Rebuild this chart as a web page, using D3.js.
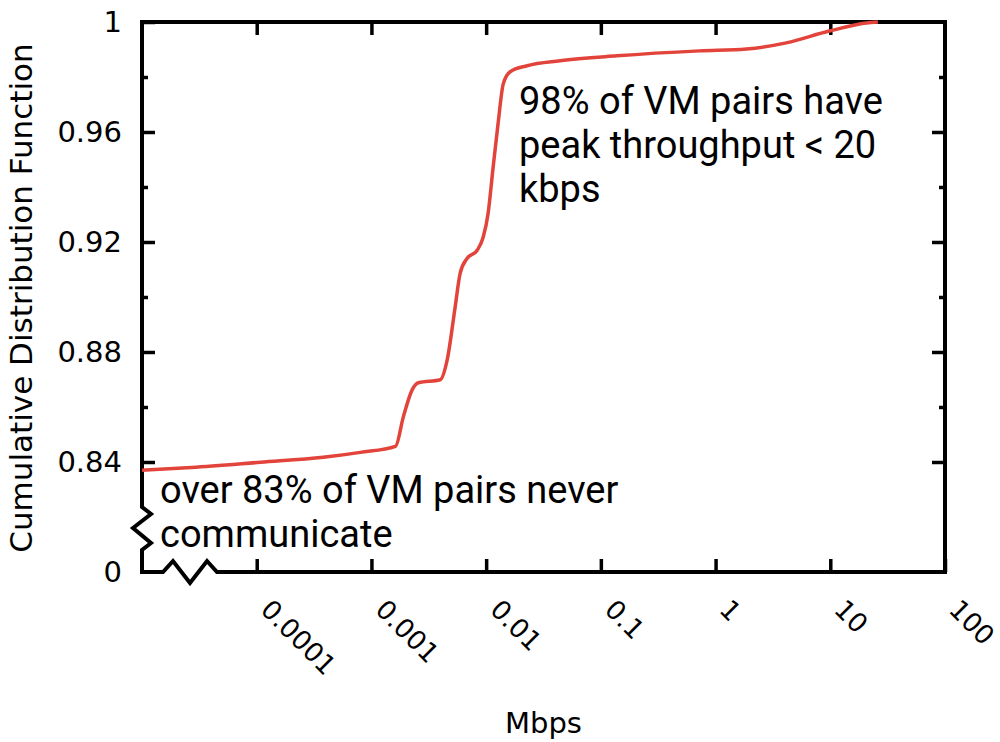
<!DOCTYPE html>
<html>
<head>
<meta charset="utf-8">
<script src="https://cdn.jsdelivr.net/npm/d3@7"></script>
<style>
  body { margin: 0; background: #fff; }
  svg { display: block; }
  .tick text { font-family: "DejaVu Sans", sans-serif; fill: #000; }
  .note { font-family: Roboto, sans-serif; font-size: 38px; fill: #000; }
</style>
</head>
<body>
<div id="chart"></div>
<script>
// CDF of peak throughput between VM pairs
var mbps = [1e-5, 2.7e-5, 1.08e-4, 3.8e-4, 8.0e-4, 1.62e-3, 1.9e-3, 2.27e-3, 2.57e-3,
    3.98e-3, 4.58e-3, 5.37e-3, 5.94e-3, 6.84e-3, 8.36e-3, 9.42e-3, 1.04e-2, 1.15e-2,
    1.27e-2, 1.41e-2, 1.62e-2, 2.28e-2, 4.4e-2, 0.138, 0.726, 1.86, 4.14, 9.8, 20.6, 26];
var cdf = [0.8370, 0.8380, 0.8399, 0.8417, 0.8435, 0.8457, 0.8565, 0.8663, 0.8688,
    0.8699, 0.8772, 0.8964, 0.9087, 0.9141, 0.9170, 0.9217, 0.9304, 0.9471,
    0.9630, 0.9775, 0.9819, 0.9841, 0.9859, 0.9877, 0.9895, 0.9902, 0.9924, 0.9967, 0.9996, 1.0];

var xTicks = [1e-4, 1e-3, 1e-2, 1e-1, 1, 10, 100];
var xTickLabels = ["0.0001", "0.001", "0.01", "0.1", "1", "10", "100"];
var yTicks = [0.84, 0.88, 0.92, 0.96, 1];
var yMinorTicks = [0.86, 0.90, 0.94, 0.98];
var yBreakLabel = "0";

var width = 1000, height = 742;
var margin = {top: 22, right: 55, bottom: 170, left: 142};

var svg = d3.select("#chart").append("svg")
    .attr("width", width)
    .attr("height", height);

var x = d3.scaleLog()
    .domain([1e-5, 100])
    .range([margin.left, width - margin.right]);
var y = d3.scaleLinear()
    .domain([0.80, 1])
    .range([height - margin.bottom, margin.top]);

var x0 = x.range()[0], x1 = x.range()[1];
var y0 = y.range()[0], y1 = y.range()[1];

// tick marks, pointing inward on all four sides
function styleAxis(g) {
    g.select(".domain").remove();
    g.selectAll(".tick line").attr("stroke", "#000").attr("stroke-width", 3.5);
}

svg.append("g")
    .attr("transform", "translate(0," + y0 + ")")
    .call(d3.axisBottom(x).tickValues(xTicks).tickSize(-13).tickFormat(function (d, i) { return xTickLabels[i]; }))
    .call(styleAxis)
    .selectAll("text")
    .attr("font-size", 26.5)
    .attr("text-anchor", "start")
    .attr("dy", null)
    .attr("y", null)
    .attr("transform", "translate(2,39) rotate(45)");

svg.append("g")
    .attr("transform", "translate(0," + y1 + ")")
    .call(d3.axisTop(x).tickValues(xTicks.slice(0, -1)).tickSize(-13).tickFormat(""))
    .call(styleAxis);

svg.append("g")
    .attr("transform", "translate(" + x0 + ",0)")
    .call(d3.axisLeft(y).tickValues(yTicks).tickSize(-13).tickPadding(20).tickFormat(d3.format("")))
    .call(styleAxis)
    .selectAll("text")
    .attr("font-size", 29);

svg.append("g")
    .attr("transform", "translate(" + x0 + ",0)")
    .call(d3.axisLeft(y).tickValues(yMinorTicks).tickSize(-6).tickFormat(""))
    .call(styleAxis);

svg.append("g")
    .attr("transform", "translate(" + x1 + ",0)")
    .call(d3.axisRight(y).tickValues(yTicks.slice(0, -1)).tickSize(-13).tickFormat(""))
    .call(styleAxis);

svg.append("g")
    .attr("transform", "translate(" + x1 + ",0)")
    .call(d3.axisRight(y).tickValues(yMinorTicks).tickSize(-6).tickFormat(""))
    .call(styleAxis);

// "0" label at the broken bottom of the y axis
svg.append("text")
    .attr("x", x0 - 20)
    .attr("y", y0)
    .attr("dy", "0.35em")
    .attr("text-anchor", "end")
    .attr("font-family", "DejaVu Sans, sans-serif")
    .attr("font-size", 29)
    .text(yBreakLabel);

// frame with the two zigzag breaks
var frame = d3.path();
frame.moveTo(x0, y1);
frame.lineTo(x1, y1);
frame.lineTo(x1, y0);
frame.lineTo(x0 + 75, y0);
frame.lineTo(x0 + 65, y0 - 11);
frame.lineTo(x0 + 48, y0 + 11);
frame.lineTo(x0 + 31, y0 - 11);
frame.lineTo(x0 + 21, y0);
frame.lineTo(x0, y0);
frame.lineTo(x0, y0 - 22);
frame.lineTo(x0 + 9, y0 - 29);
frame.lineTo(x0 - 9, y0 - 44);
frame.lineTo(x0 + 9, y0 - 58);
frame.lineTo(x0, y0 - 65);
frame.closePath();

svg.append("path")
    .attr("d", frame.toString())
    .attr("fill", "none")
    .attr("stroke", "#000")
    .attr("stroke-width", 4)
    .attr("stroke-linejoin", "miter");

// the CDF curve
var line = d3.line()
    .x(function (d, i) { return x(mbps[i]); })
    .y(function (d) { return y(d); })
    .curve(d3.curveMonotoneX);

svg.append("path")
    .datum(cdf)
    .attr("d", line)
    .attr("fill", "none")
    .attr("stroke", "#e2433a")
    .attr("stroke-width", 3.5)
    .attr("stroke-linejoin", "round");

// axis titles
svg.append("text")
    .attr("transform", "translate(32,298) rotate(-90)")
    .attr("text-anchor", "middle")
    .attr("font-family", "DejaVu Sans, sans-serif")
    .attr("font-size", 31)
    .text("Cumulative Distribution Function");

svg.append("text")
    .attr("x", (x0 + x1) / 2)
    .attr("y", 733)
    .attr("text-anchor", "middle")
    .attr("font-family", "DejaVu Sans, sans-serif")
    .attr("font-size", 29)
    .text("Mbps");

// annotations
var notes = [
    {x: 519, y: 114, lines: ["98% of VM pairs have", "peak throughput < 20", "kbps"]},
    {x: 160, y: 503, lines: ["over 83% of VM pairs never", "communicate"]}
];
notes.forEach(function (n) {
    var t = svg.append("text").attr("class", "note").attr("x", n.x).attr("y", n.y);
    n.lines.forEach(function (s, i) {
        t.append("tspan").attr("x", n.x).attr("dy", i === 0 ? 0 : 44).text(s);
    });
});
</script>
</body>
</html>
